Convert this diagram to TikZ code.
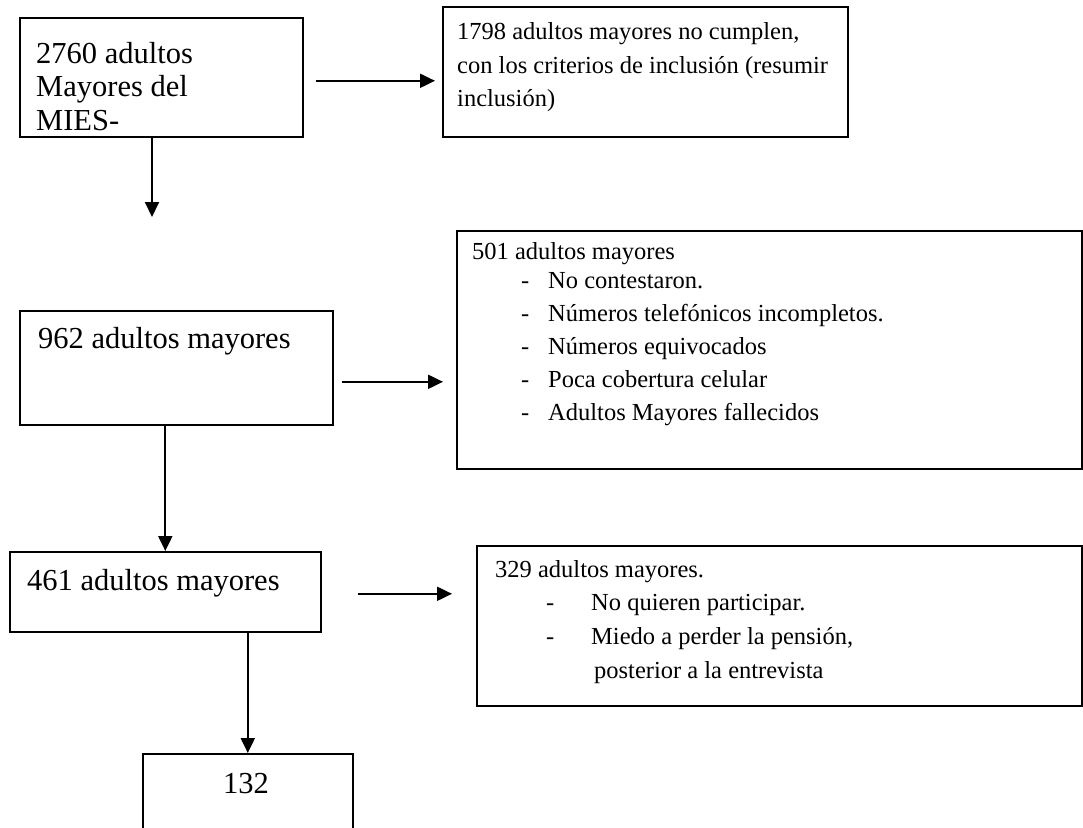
\documentclass[tikz,border=0pt]{standalone}
\usepackage{fontspec}
\setmainfont{Liberation Serif}
\usetikzlibrary{arrows.meta}
\begin{document}
\begin{tikzpicture}[x=1pt,y=-1pt,
  box/.style={draw, line width=1.6pt, rectangle, anchor=north west, inner sep=0pt},
  big/.style={font=\fontsize{30.5}{34}\selectfont, inner sep=0pt, anchor=base west},
  small/.style={font=\fontsize{24.5}{30}\selectfont, inner sep=0pt, anchor=base west},
  arr/.style={-{Triangle[length=15pt,width=14pt]}, line width=2pt}]
\useasboundingbox (0,0) rectangle (1083,827);
\clip (0,0) rectangle (1083,827);
\fill[white] (0,0) rectangle (1083,827);
% boxes
\node[box, minimum width=283pt, minimum height=119pt] (b1) at (19,17) {};
\node[box, minimum width=405pt, minimum height=130pt] (b2) at (442,6) {};
\node[box, minimum width=313pt, minimum height=114pt] (b3) at (19,310) {};
\node[box, minimum width=625pt, minimum height=238pt] (b4) at (456,230) {};
\node[box, minimum width=311pt, minimum height=80pt] (b5) at (9,551) {};
\node[box, minimum width=605pt, minimum height=160pt] (b6) at (476,545) {};
\node[box, minimum width=210pt, minimum height=110pt] (b7) at (142,753) {};
% texts
\node[big] (t1a) at (36,63) {2760 adultos};
\node[big] (t1b) at (36,96.5) {Mayores del};
\node[big] (t1c) at (36,130) {MIES-};
\node[small] (t2a) at (457,39) {1798 adultos mayores no cumplen,};
\node[small] (t2b) at (457,73) {con los criterios de inclusión (resumir};
\node[small] (t2c) at (457,106) {inclusión)};
\node[big] (t3) at (38,348) {962 adultos mayores};
\node[small] (t4) at (472,259) {501 adultos mayores};
\node[small] (d4a) at (521,288) {-};
\node[small] (t4a) at (548,288) {No contestaron.};
\node[small] (d4b) at (521,321) {-};
\node[small] (t4b) at (548,321) {Números telefónicos incompletos.};
\node[small] (d4c) at (521,354) {-};
\node[small] (t4c) at (548,354) {Números equivocados};
\node[small] (d4d) at (521,387) {-};
\node[small] (t4d) at (548,387) {Poca cobertura celular};
\node[small] (d4e) at (521,420) {-};
\node[small] (t4e) at (548,420) {Adultos Mayores fallecidos};
\node[big] (t5) at (27,590) {461 adultos mayores};
\node[small] (t6) at (495,577) {329 adultos mayores.};
\node[small] (d6a) at (546,610) {-};
\node[small] (t6a) at (591,610) {No quieren participar.};
\node[small] (d6b) at (546,644) {-};
\node[small] (t6b) at (591,644) {Miedo a perder la pensión,};
\node[small] (t6c) at (594,678) {posterior a la entrevista};
\node[big, anchor=base] (t7) at (246,793) {132};
% connectors
\coordinate (c1) at (152,217);
\draw[arr] ([xshift=12pt,yshift=-3.5pt]b1.east) -- ([xshift=-7pt,yshift=-3.5pt]b1.east -| b2.west);
\draw[arr] (b1.south -| c1) -- (c1);
\draw[arr] ([xshift=8pt,yshift=-14pt]b3.east) -- ([xshift=-13pt,yshift=-14pt]b3.east -| b4.west);
\draw[arr] (b3.south -| b5.north) -- (b5.north);
\draw[arr] ([xshift=36pt,yshift=-2pt]b5.east) -- ([xshift=-24pt,yshift=-2pt]b5.east -| b6.west);
\draw[arr] (b5.south -| b7.north) -- (b7.north);
\end{tikzpicture}
\end{document}
